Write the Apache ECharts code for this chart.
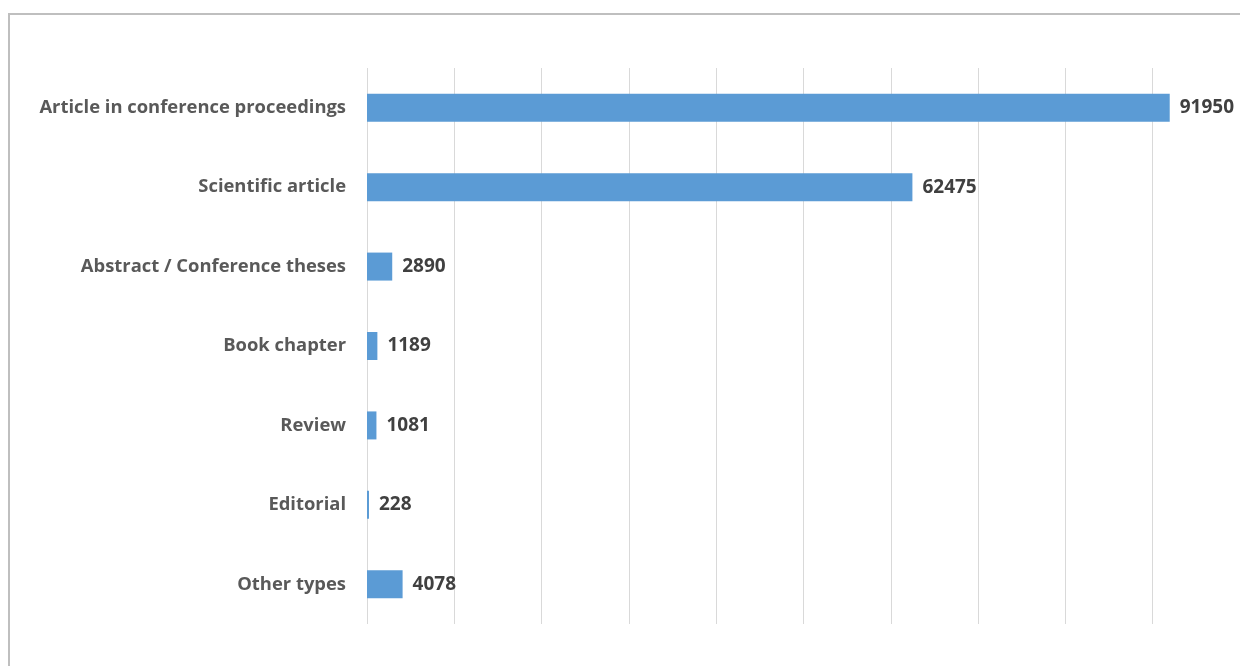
<!DOCTYPE html>
<html>
<head>
<meta charset="utf-8">
<script src="https://cdn.jsdelivr.net/npm/echarts@6/dist/echarts.min.js"></script>
<style>
  html, body { margin: 0; padding: 0; background: #ffffff; }
  #chart { width: 1240px; height: 666px; }
</style>
</head>
<body>
<div id="chart"></div>
<script>
// Publication types and their record counts
const categories = [
  'Article in conference proceedings',
  'Scientific article',
  'Abstract / Conference theses',
  'Book chapter',
  'Review',
  'Editorial',
  'Other types'
];
const counts = [91950, 62475, 2890, 1189, 1081, 228, 4078];

const chart = echarts.init(document.getElementById('chart'));
chart.setOption({
  animation: false,
  backgroundColor: '#ffffff',
  graphic: [{
    type: 'rect',
    shape: { x: 9, y: 14, width: 1250, height: 680 },
    style: { fill: 'none', stroke: '#bfbfbf', lineWidth: 2 },
    silent: true
  }],
  grid: { left: 367, top: 68, width: 877, height: 556 },
  xAxis: {
    type: 'value',
    min: 0,
    max: 100000,
    interval: 10000,
    axisLine: { show: false },
    axisTick: { show: false },
    axisLabel: { show: false },
    splitLine: { show: true, lineStyle: { color: '#d9d9d9', width: 1 } }
  },
  yAxis: {
    type: 'category',
    data: categories,
    inverse: true,
    axisLine: { show: false },
    axisTick: { show: false },
    axisLabel: {
      margin: 21,
      color: '#595959',
      fontFamily: 'Open Sans',
      fontWeight: 'bold',
      fontSize: 18.4
    }
  },
  series: [{
    type: 'bar',
    data: counts,
    barWidth: 28,
    itemStyle: { color: '#5b9bd5' },
    label: {
      show: true,
      position: 'right',
      distance: 10,
      color: '#404040',
      fontFamily: 'Open Sans',
      fontWeight: 'bold',
      fontSize: 19
    }
  }]
});
</script>
</body>
</html>
